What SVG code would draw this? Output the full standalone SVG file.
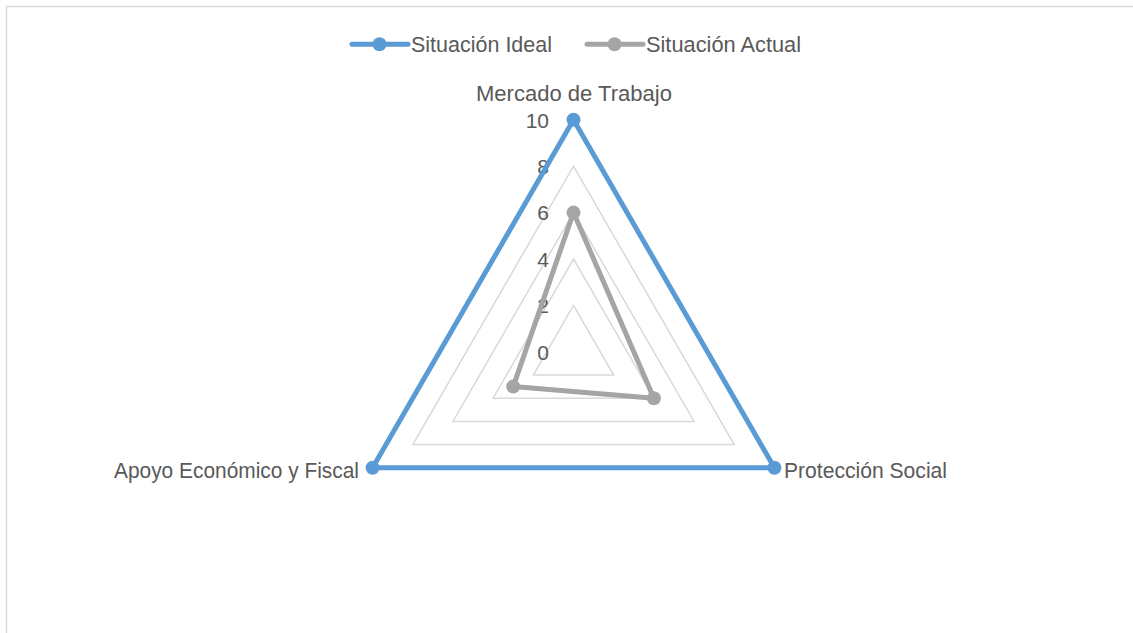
<svg xmlns="http://www.w3.org/2000/svg" width="1133" height="633" viewBox="0 0 1133 633">
  <style>
    .lbl { font-family: "Liberation Sans", Arial, sans-serif; font-size: 22px; fill: #595959; }
    .tick { font-family: "Liberation Sans", Arial, sans-serif; font-size: 21px; fill: #595959; text-anchor: end; }
    .grid { fill: none; stroke: #D9D9D9; stroke-width: 1.5; }
    .ideal { fill: none; stroke: #5B9BD5; stroke-width: 5; stroke-linejoin: round; }
    .actual { fill: none; stroke: #A5A5A5; stroke-width: 5; stroke-linejoin: round; }
    .mi { fill: #5B9BD5; }
    .ma { fill: #A5A5A5; }
  </style>
  <rect x="0" y="0" width="1133" height="633" fill="#FFFFFF"/>
  <g id="frame">
    <line x1="6.5" y1="6.5" x2="1133" y2="6.5" stroke="#D9D9D9" stroke-width="1.5"/>
    <line x1="6.5" y1="6.5" x2="6.5" y2="633" stroke="#D9D9D9" stroke-width="1.5"/>
  </g>
  <g id="legend">
    <g id="legend-ideal">
      <line x1="352" y1="44.3" x2="408" y2="44.3" stroke="#5B9BD5" stroke-width="5" stroke-linecap="round"/>
      <circle cx="379.5" cy="44.3" r="7" class="mi"/>
      <text x="411" y="52" class="lbl" textLength="141" lengthAdjust="spacingAndGlyphs">Situación Ideal</text>
    </g>
    <g id="legend-actual">
      <line x1="587" y1="44.3" x2="643" y2="44.3" stroke="#A5A5A5" stroke-width="5" stroke-linecap="round"/>
      <circle cx="614.5" cy="44.3" r="7" class="ma"/>
      <text x="646" y="52" class="lbl" textLength="155" lengthAdjust="spacingAndGlyphs">Situación Actual</text>
    </g>
  </g>
  <g id="gridlines">
    <polygon class="grid" points="573.5,305.4 613.7,375 533.3,375"/>
    <polygon class="grid" points="573.5,259 653.9,398.2 493.1,398.2"/>
    <polygon class="grid" points="573.5,212.6 694.05,421.4 452.95,421.4"/>
    <polygon class="grid" points="573.5,166.2 734.2,444.6 412.8,444.6"/>
    <polygon class="grid" points="573.5,119.8 774.4,467.8 372.6,467.8"/>
  </g>
  <g id="ticks">
    <text x="549" y="359.5" class="tick">0</text>
    <text x="549" y="313.1" class="tick">2</text>
    <text x="549" y="266.7" class="tick">4</text>
    <text x="549" y="220.3" class="tick">6</text>
    <text x="549" y="173.9" class="tick">8</text>
    <text x="549" y="127.5" class="tick">10</text>
  </g>
  <g id="connectors">
    <polygon id="series-ideal" class="ideal" points="573.5,119.8 774.4,467.8 372.6,467.8"/>
    <polygon id="series-actual" class="actual" points="573.5,212.6 653.9,398.2 513.2,386.6"/>
  </g>
  <g id="node-mercado">
    <circle cx="573.5" cy="119.8" r="7" class="mi"/>
    <circle cx="573.5" cy="212.6" r="7" class="ma"/>
    <text x="476" y="101" class="lbl" textLength="196" lengthAdjust="spacingAndGlyphs">Mercado de Trabajo</text>
  </g>
  <g id="node-proteccion">
    <circle cx="774.4" cy="467.8" r="7" class="mi"/>
    <circle cx="653.9" cy="398.2" r="7" class="ma"/>
    <text x="784" y="477.5" class="lbl" textLength="163" lengthAdjust="spacingAndGlyphs">Protección Social</text>
  </g>
  <g id="node-apoyo">
    <circle cx="372.6" cy="467.8" r="7" class="mi"/>
    <circle cx="513.2" cy="386.6" r="7" class="ma"/>
    <text x="114" y="477.5" class="lbl" textLength="245" lengthAdjust="spacingAndGlyphs">Apoyo Económico y Fiscal</text>
  </g>
</svg>
